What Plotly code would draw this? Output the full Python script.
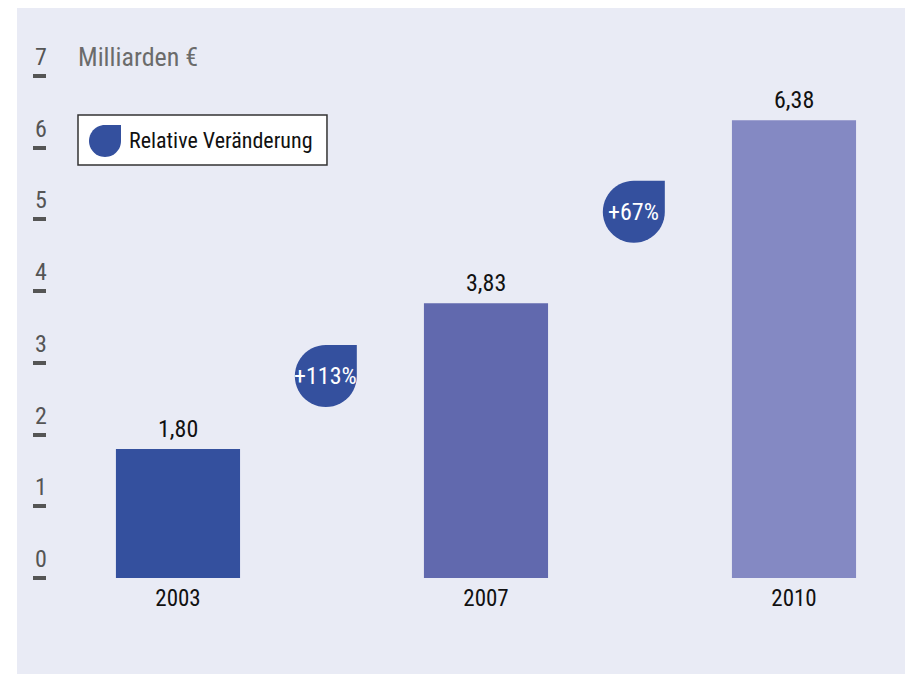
import numpy as np
import plotly.graph_objects as go

# data
years = ["2003", "2007", "2010"]
values = [1.80, 3.83, 6.38]
bar_colors = ["#34509e", "#6169ae", "#8489c3"]
changes = ["+113%", "+67%"]
y_ticks = [0, 1, 2, 3, 4, 5, 6, 7]
unit_label = "Milliarden €"
legend_label = "Relative Veränderung"

FONT = "Liberation Sans Narrow, Roboto Condensed, DejaVu Sans Condensed, sans-serif"
BADGE = "#34509e"
PANEL = "#e9ebf5"


def drop_path(r):
    # circle with square top-right corner, in pixels around the anchor
    t = np.linspace(np.pi / 2, 2 * np.pi, 40)
    pts = [f"L{r * np.cos(a):.2f},{r * np.sin(a):.2f}" for a in t]
    return f"M{r},0 L{r},{r} L0,{r} " + " ".join(pts) + " Z"


x = list(range(len(years)))

fig = go.Figure()
fig.add_trace(go.Bar(
    x=x, y=values, width=0.403, marker=dict(color=bar_colors, line=dict(width=0)),
    showlegend=False,
))

shapes = [
    # background panel
    dict(type="rect", xref="paper", yref="paper", x0=-0.0346, x1=1.02, y0=-0.22, y1=1.0595,
         fillcolor=PANEL, line=dict(width=0), layer="below"),
    # legend box
    dict(type="rect", xref="paper", yref="paper", x0=0.0358, x1=0.3233, y0=0.7677, y1=0.8606,
         fillcolor="white", line=dict(color="#333333", width=1.5), layer="above"),
    dict(type="path", xref="paper", yref="paper", xsizemode="pixel", ysizemode="pixel",
         xanchor=0.067, yanchor=0.8123, path=drop_path(16), fillcolor=BADGE,
         line=dict(width=0), layer="above"),
]

annotations = [
    dict(xref="paper", yref="paper", x=0.0335, y=0.968, text=unit_label, showarrow=False,
         xanchor="left", yanchor="middle", font=dict(family=FONT, size=26, color="#6b6b6b")),
    dict(xref="paper", yref="paper", x=0.0925, y=0.8123, text=legend_label, showarrow=False,
         xanchor="left", yanchor="middle", font=dict(family=FONT, size=22, color="#111111")),
]

# value labels above bars, decimal comma
for xi, v in zip(x, values):
    annotations.append(dict(x=xi, y=v, yshift=20, text=f"{v:.2f}".replace(".", ","),
                            showarrow=False, xanchor="center", yanchor="middle",
                            font=dict(family=FONT, size=24, color="#111111")))

# y tick digits sit above the tick dashes
for v in y_ticks:
    annotations.append(dict(xref="paper", yref="y", x=0, y=v, xshift=-6.5, yshift=19,
                            text=str(v), showarrow=False, xanchor="center", yanchor="middle",
                            font=dict(family=FONT, size=24, color="#555555")))

# relative change badges between bars
for i, txt in enumerate(changes):
    bx = x[i] + 0.48
    by = (values[i] + values[i + 1]) / 2
    shapes.append(dict(type="path", xref="x", yref="y", xsizemode="pixel", ysizemode="pixel",
                       xanchor=bx, yanchor=by, path=drop_path(31), fillcolor=BADGE,
                       line=dict(width=0), layer="above"))
    annotations.append(dict(x=bx, y=by, text=txt, showarrow=False, xanchor="center",
                            yanchor="middle", font=dict(family=FONT, size=24, color="white")))

fig.update_layout(
    width=905, height=666,
    margin=dict(l=39, r=0, t=32, b=96),
    paper_bgcolor="white", plot_bgcolor="rgba(0,0,0,0)",
    shapes=shapes, annotations=annotations,
    showlegend=False,
)
fig.update_xaxes(range=[-0.4253, 2.3864], tickvals=x, ticktext=years, showgrid=False,
                 zeroline=False, showline=False, ticks="", ticklabelstandoff=4,
                 tickfont=dict(family=FONT, size=23, color="#111111"))
fig.update_yaxes(range=[0, 7.5], tickvals=y_ticks, showticklabels=False, showgrid=False,
                 zeroline=False, showline=False, ticks="outside", ticklen=13, tickwidth=4,
                 tickcolor="#555555")

fig.write_html("out.html")
